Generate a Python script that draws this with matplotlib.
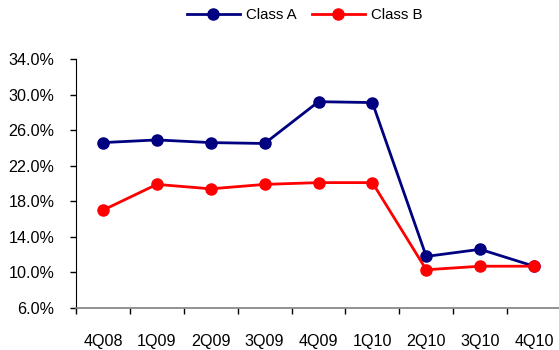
import matplotlib.pyplot as plt
import numpy as np
from matplotlib.ticker import FixedLocator, FuncFormatter

plt.rcParams['font.family'] = ['Liberation Sans', 'DejaVu Sans']

quarters = ["4Q08", "1Q09", "2Q09", "3Q09", "4Q09", "1Q10", "2Q10", "3Q10", "4Q10"]
class_a = [24.6, 24.9, 24.6, 24.5, 29.2, 29.1, 11.8, 12.6, 10.7]
class_b = [17.0, 19.9, 19.4, 19.9, 20.1, 20.1, 10.3, 10.7, 10.7]
y_ticks = [6, 10, 14, 18, 22, 26, 30, 34]

fig = plt.figure(figsize=(5.59, 3.5), dpi=100)
ax = fig.add_axes([76 / 559, 1 - 308 / 350, 485 / 559, 249 / 350])

x = np.arange(len(quarters))
ax.plot(x, class_a, color='#000080', lw=2, marker='o', ms=8, label='Class A', clip_on=False)
ax.plot(x, class_b, color='#FF0000', lw=2, marker='o', ms=8, label='Class B', clip_on=False)

ax.set_xlim(-0.5, len(quarters) - 0.5)
ax.set_ylim(6, 34)
ax.set_yticks(y_ticks)
ax.yaxis.set_major_formatter(FuncFormatter(lambda v, p: f"{v:.1f}%"))

# category labels sit between the boundary ticks
ax.xaxis.set_major_locator(FixedLocator(np.arange(len(quarters) + 1) - 0.5))
ax.xaxis.set_minor_locator(FixedLocator(x))
ax.set_xticklabels([])
ax.set_xticklabels(quarters, minor=True)
ax.tick_params(axis='x', which='minor', length=0, pad=19, labelsize=11.6)
ax.tick_params(axis='x', which='major', length=4, width=1, color='black')
ax.tick_params(axis='y', length=4, width=1, pad=11.5, labelsize=11.6)

for s in ['top', 'right']:
    ax.spines[s].set_visible(False)
ax.spines['left'].set_color('black')
ax.spines['bottom'].set_color('#808080')
ax.spines['bottom'].set_linewidth(1.2)

fig.legend(loc='center', bbox_to_anchor=(305 / 559, 1 - 15 / 350), ncol=2, frameon=False,
           fontsize=10.8, handlelength=3.5, handletextpad=0.45, columnspacing=1.0)

fig.savefig('out.png', dpi=100)
